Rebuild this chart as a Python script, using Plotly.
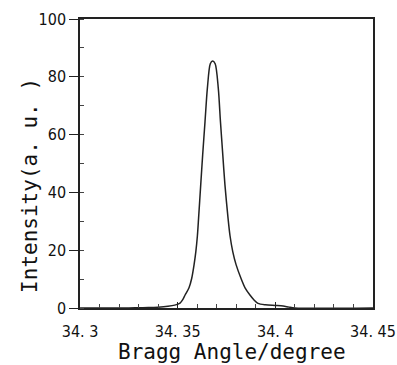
import plotly.graph_objects as go

# Bragg angle (degree) and intensity (a.u.)
angle = [34.3000, 34.3250, 34.3300, 34.3350, 34.3400, 34.3450, 34.3485, 34.3512,
         34.3525, 34.3538, 34.3558, 34.3572, 34.3584, 34.3593, 34.3601, 34.3607,
         34.3618, 34.3628, 34.3640, 34.3652, 34.3667, 34.3679, 34.3692, 34.3708,
         34.3719, 34.3731, 34.3742, 34.3758, 34.3768, 34.3782, 34.3799, 34.3824,
         34.3845, 34.3870, 34.3891, 34.3911, 34.3950, 34.4000, 34.4040, 34.4070,
         34.4100, 34.4500]
intensity = [0.0, 0.0, 0.1, 0.15, 0.3, 0.6, 1.0, 1.7,
             2.8, 4.5, 7.0, 10.3, 15.0, 19.5, 25.0, 31.0,
             42.6, 53.0, 64.5, 76.0, 84.5, 85.5, 84.5, 76.0,
             64.5, 53.0, 42.6, 31.0, 25.0, 19.5, 15.0, 10.3,
             7.0, 4.5, 2.8, 1.6, 1.1, 0.9, 0.7, 0.3,
             0.0, 0.0]

x_tickvals = [34.30, 34.35, 34.40, 34.45]
x_ticktext = ["34. 3", "34. 35", "34. 4", "34. 45"]
y_tickvals = [0, 20, 40, 60, 80, 100]
x_title = "Bragg Angle/degree"
y_title = "Intensity(a. u. )"

tick_font = dict(family="Liberation Sans Narrow, DejaVu Sans Condensed, Arial Narrow, sans-serif",
                 size=16, color="#111")
title_font = dict(family="DejaVu Sans Mono, Liberation Mono, monospace", size=21, color="#111")

fig = go.Figure(go.Scatter(
    x=angle, y=intensity, mode="lines",
    line=dict(color="#222", width=1.5, shape="spline", smoothing=0.8),
    hoverinfo="skip"))

fig.update_layout(
    width=397, height=365,
    margin=dict(l=80, r=24, t=19, b=57, autoexpand=False),
    paper_bgcolor="white", plot_bgcolor="white",
    showlegend=False,
    annotations=[
        dict(text=x_title, xref="paper", yref="paper", x=0.519, y=-0.152,
             xanchor="center", yanchor="middle", showarrow=False, font=title_font),
        dict(text=y_title, xref="paper", yref="paper", x=-0.171, y=0.4256,
             xanchor="center", yanchor="middle", showarrow=False, textangle=-90,
             font=title_font),
    ],
)
fig.update_xaxes(
    range=[34.29999, 34.45001], tickvals=x_tickvals, ticktext=x_ticktext,
    showgrid=False, zeroline=False, automargin=False,
    showline=True, linecolor="#222", linewidth=1.5, mirror=True,
    ticks="inside", ticklen=6, tickwidth=1, tickcolor="#222",
    minor=dict(dtick=0.01, tick0=34.30, ticks="inside", ticklen=4, tickcolor="#444", tickwidth=1),
    tickfont=tick_font, ticklabelstandoff=8,
)
fig.update_yaxes(
    range=[0, 100], tickvals=y_tickvals,
    showgrid=False, zeroline=False, automargin=False,
    showline=True, linecolor="#222", linewidth=1.5, mirror=True,
    ticks="outside", ticklen=9, tickwidth=1, tickcolor="#222",
    minor=dict(dtick=10, tick0=0, ticks="inside", ticklen=4, tickcolor="#444", tickwidth=1),
    tickfont=tick_font,
)

fig.write_html("out.html")
